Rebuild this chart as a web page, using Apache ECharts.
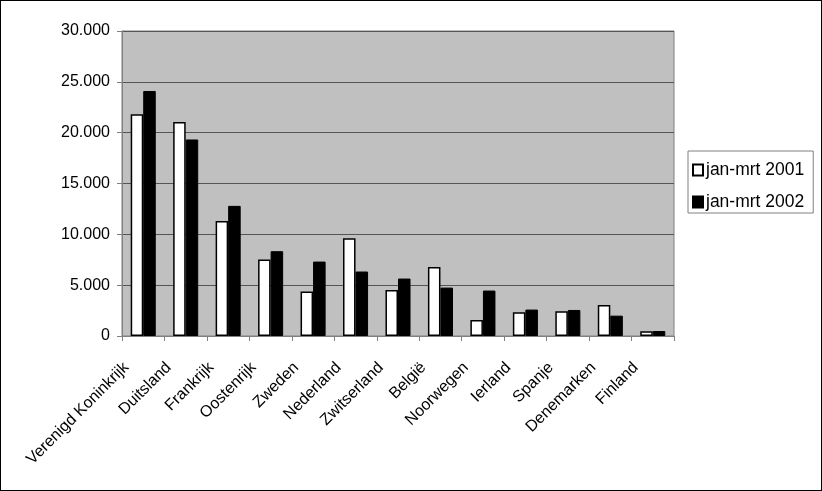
<!DOCTYPE html>
<html><head><meta charset="utf-8">
<script src="https://cdn.jsdelivr.net/npm/echarts@6/dist/echarts.min.js"></script>
<style>
html,body{margin:0;padding:0;background:#fff;}
#c{width:822px;height:491px;position:relative;}
#frame{position:absolute;left:0;top:0;width:822px;height:491px;box-sizing:border-box;border:1px solid #000;pointer-events:none;}
</style></head>
<body>
<div style="position:relative;width:822px;height:491px;">
<div id="c"></div><div id="frame"></div>
</div>
<script>
var categories = ['Verenigd Koninkrijk','Duitsland','Frankrijk','Oostenrijk','Zweden','Nederland','Zwitserland','België','Noorwegen','Ierland','Spanje','Denemarken','Finland'];
var series2001 = [21800,21060,11320,7520,4370,9620,4530,6790,1570,2330,2430,3050,460];
var series2002 = [24100,19330,12800,8340,7320,6340,5650,4760,4470,2600,2560,2000,490];
var seriesNames = ['jan-mrt 2001','jan-mrt 2002'];
var yTicks = {min:0,max:30000,interval:5000};

var chart = echarts.init(document.getElementById('c'));
var font = '"Liberation Sans", Arial, sans-serif';
chart.setOption({
  animation:false,
  textStyle:{fontFamily:font},
  grid:{left:122,right:148,top:31,bottom:155,show:true,backgroundColor:'#c0c0c0',borderColor:'#808080',borderWidth:1},
  legend:{
    orient:'vertical',left:688,top:151,
    backgroundColor:'#fff',borderColor:'#808080',borderWidth:1,
    padding:[10,9,2,4],itemGap:14,itemWidth:10,itemHeight:11,icon:'rect',
    textStyle:{fontFamily:font,fontSize:17.5,lineHeight:16,color:'#000',padding:[0,0,0,-2]},
    data:seriesNames
  },
  xAxis:{
    type:'category',data:categories,
    axisLine:{lineStyle:{color:'#808080',width:1}},
    axisTick:{show:true,alignWithLabel:false,interval:0,length:5,lineStyle:{color:'#808080'}},
    axisLabel:{interval:0,rotate:45,fontSize:16,color:'#000',fontFamily:font,margin:12,padding:[0,24,0,0]}
  },
  yAxis:{
    type:'value',min:yTicks.min,max:yTicks.max,interval:yTicks.interval,
    axisLine:{show:true,lineStyle:{color:'#808080'}},
    axisTick:{show:true,length:5,lineStyle:{color:'#808080'}},
    axisLabel:{fontSize:16,color:'#000',fontFamily:font,margin:12,
      formatter:function(v){return v===0?'0':String(v).replace(/\B(?=(\d{3})+(?!\d))/g,'.');}},
    splitLine:{show:true,lineStyle:{color:'#555',width:1}}
  },
  series:[
    {name:seriesNames[0],type:'bar',data:series2001,barGap:'0%',barCategoryGap:'41%',
     itemStyle:{color:'#fff',borderColor:'#000',borderWidth:1.5}},
    {name:seriesNames[1],type:'bar',data:series2002,
     itemStyle:{color:'#000',borderColor:'#000',borderWidth:1}}
  ]
});
</script>
</body></html>
